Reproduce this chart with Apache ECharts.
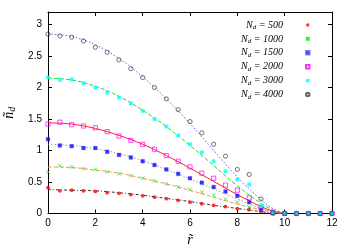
<!DOCTYPE html>
<html><head><meta charset="utf-8">
<script src="https://cdn.jsdelivr.net/npm/echarts@6/dist/echarts.min.js"></script>
<style>html,body{margin:0;padding:0;background:#fff}#c{width:350px;height:245px}</style>
</head><body><div id="c"></div>
<script>
const xPts = [0,0.5,1,1.5,2,2.5,3,3.5,4,4.5,5,5.5,6,6.5,7,7.5,8,8.5,9,9.5,10,10.5,11,11.5,12];
const nd500  = [0.41,0.36,0.37,0.36,0.35,0.33,0.32,0.30,0.28,0.26,0.235,0.21,0.18,0.155,0.13,0.11,0.076,0.06,0.035,0,0,0,0,0,0];
const nd1000 = [0.66,0.76,0.74,0.71,0.70,0.66,0.63,0.60,0.56,0.52,0.47,0.42,0.38,0.34,0.29,0.23,0.18,0.10,0.035,0,0,0,0,0,0];
const nd1500 = [1.18,1.08,1.07,1.04,1.04,0.98,0.93,0.89,0.83,0.77,0.70,0.63,0.56,0.49,0.42,0.35,0.28,0.18,0.06,0.01,0,0,0,0,0];
const nd2000 = [1.42,1.45,1.41,1.39,1.36,1.30,1.23,1.16,1.10,1.02,0.92,0.83,0.74,0.64,0.56,0.45,0.37,0.25,0.09,0.01,0,0,0,0,0];
const nd3000 = [2.16,2.12,2.13,2.07,2.00,1.92,1.84,1.75,1.63,1.50,1.38,1.24,1.10,0.97,0.83,0.67,0.54,0.46,0.13,0.01,0,0,0,0,0];
const nd4000 = [2.85,2.82,2.80,2.74,2.64,2.56,2.44,2.30,2.16,2.00,1.82,1.65,1.46,1.28,1.10,0.91,0.70,0.62,0.23,0.01,0,0,0,0,0];

const xFit = [0,1,2,3,4,5,6,7,8,9,9.5,10];
const fit500  = [0.38,0.37,0.36,0.33,0.29,0.24,0.19,0.13,0.08,0.03,0.01,0];
const fit1000 = [0.74,0.73,0.69,0.64,0.56,0.47,0.37,0.26,0.15,0.06,0.02,0];
const fit1500 = [1.10,1.08,1.03,0.95,0.84,0.70,0.55,0.39,0.23,0.08,0.03,0];
const fit2000 = [1.44,1.42,1.35,1.24,1.10,0.92,0.72,0.51,0.30,0.11,0.04,0];
const fit3000 = [2.15,2.12,2.02,1.86,1.64,1.38,1.08,0.76,0.44,0.16,0.06,0];
const fit4000 = [2.85,2.81,2.68,2.46,2.17,1.82,1.43,1.00,0.58,0.22,0.08,0];

const labels = ['500','1000','1500','2000','3000','4000'];
const xTicks = [0,2,4,6,8,10,12];
const yTicks = [0,0.5,1,1.5,2,2.5,3];

const pts = [nd500,nd1000,nd1500,nd2000,nd3000,nd4000];
const fits = [fit500,fit1000,fit1500,fit2000,fit3000,fit4000];
const pair = (xs, ys) => xs.map((x,i)=>[x, ys[i]]);

const markerStyles = [
  {symbol:'circle', symbolSize:3.8, itemStyle:{color:'#ff0000'}},
  {symbol:'path://M0,0L10,10M10,0L0,10', symbolSize:3.8, itemStyle:{color:'none', borderColor:'#00e000', borderWidth:0.8}},
  {symbol:'rect', symbolSize:3.8, itemStyle:{color:'#0000ff', borderColor:'#6060ff', borderWidth:0.4}},
  {symbol:'rect', symbolSize:4.2, itemStyle:{color:'rgba(255,255,255,0)', borderColor:'#ff00ff', borderWidth:0.9}},
  {symbol:'rect', symbolSize:3.8, itemStyle:{color:'#00ffff'}},
  {symbol:'circle', symbolSize:4.2, itemStyle:{color:'rgba(255,255,255,0)', borderColor:'#404040', borderWidth:0.9}}
];
const lineStyles = [
  {color:'#333333', width:1, type:[3,2,1,2]},
  {color:'#ff8c50', width:1, type:[4,2]},
  {color:'#9a9a9a', width:1, type:[1.5,2]},
  {color:'#ff2020', width:1, type:'solid'},
  {color:'#20e020', width:1, type:[4,2]},
  {color:'#5a5aff', width:1, type:[1.5,2]}
];

const series = [];
fits.forEach((f,i)=>{
  series.push({type:'line', name:'fit'+labels[i], data:pair(xFit,f), smooth:0.4, showSymbol:false, symbol:'none',
    lineStyle:lineStyles[i], z:1, silent:true});
});
pts.forEach((p,i)=>{
  series.push(Object.assign({type:'scatter', name:labels[i], data:pair(xPts,p), z:3}, markerStyles[i]));
});

const serif = 'Liberation Serif';
const chart = echarts.init(document.getElementById('c'), null, {renderer:'canvas'});
chart.setOption({
  animation:false,
  backgroundColor:'#fff',
  grid:{left:48, right:18, top:12, bottom:31.5, show:false, containLabel:false, outerBoundsMode:'none'},
  legend:{
    data:labels, orient:'vertical', right:33, top:14, align:'right',
    itemWidth:3.5, itemHeight:3.5, itemGap:1.9,
    formatter: n => '{i|N}{s|d}{i| = ' + n + '}{g|}',
    textStyle:{
      rich:{
        i:{fontFamily:serif, fontStyle:'italic', fontSize:10, color:'#000', lineHeight:11},
        s:{fontFamily:serif, fontStyle:'italic', fontSize:7, color:'#000', verticalAlign:'bottom', lineHeight:11, padding:[4,0,0,0]},
        g:{width:18}
      }
    }
  },
  xAxis:[
    {type:'value', min:0, max:12, interval:2, position:'bottom',
     axisLine:{show:true, onZero:false, lineStyle:{color:'#000', width:1}},
     axisTick:{show:true, inside:true, length:4, lineStyle:{color:'#000'}},
     axisLabel:{color:'#000', fontFamily:'Liberation Sans', fontSize:10, margin:5},
     splitLine:{show:false},
     name:'r\u0303', nameLocation:'middle', nameGap:17,
     nameTextStyle:{fontFamily:serif, fontStyle:'italic', fontSize:14, color:'#000'}},
    {type:'value', min:0, max:12, interval:2, position:'top',
     axisLine:{show:true, onZero:false, lineStyle:{color:'#000', width:1}},
     axisTick:{show:true, inside:true, length:4, lineStyle:{color:'#000'}},
     axisLabel:{show:false}, splitLine:{show:false}}
  ],
  yAxis:[
    {type:'value', min:0, max:3.2, interval:0.5, position:'left',
     axisLine:{show:true, onZero:false, lineStyle:{color:'#000', width:1}},
     axisTick:{show:true, inside:true, length:4, lineStyle:{color:'#000'}},
     axisLabel:{color:'#000', fontFamily:'Liberation Sans', fontSize:10, margin:6,
       showMaxLabel:false, formatter: v => (yTicks.indexOf(v) >= 0 ? String(v) : '')},
     splitLine:{show:false},
     name:'{n|n\u0303}{s|d}', nameLocation:'middle', nameGap:31, nameRotate:90,
     nameTextStyle:{rich:{
       n:{fontFamily:serif, fontStyle:'italic', fontSize:14, color:'#000'},
       s:{fontFamily:serif, fontStyle:'italic', fontSize:10, color:'#000', verticalAlign:'bottom', padding:[6,0,0,0]}
     }}},
    {type:'value', min:0, max:3.2, interval:0.5, position:'right',
     axisLine:{show:true, onZero:false, lineStyle:{color:'#000', width:1}},
     axisTick:{show:true, inside:true, length:4, lineStyle:{color:'#000'}},
     axisLabel:{show:false}, splitLine:{show:false}}
  ],
  series: series
});
</script>
</body></html>
